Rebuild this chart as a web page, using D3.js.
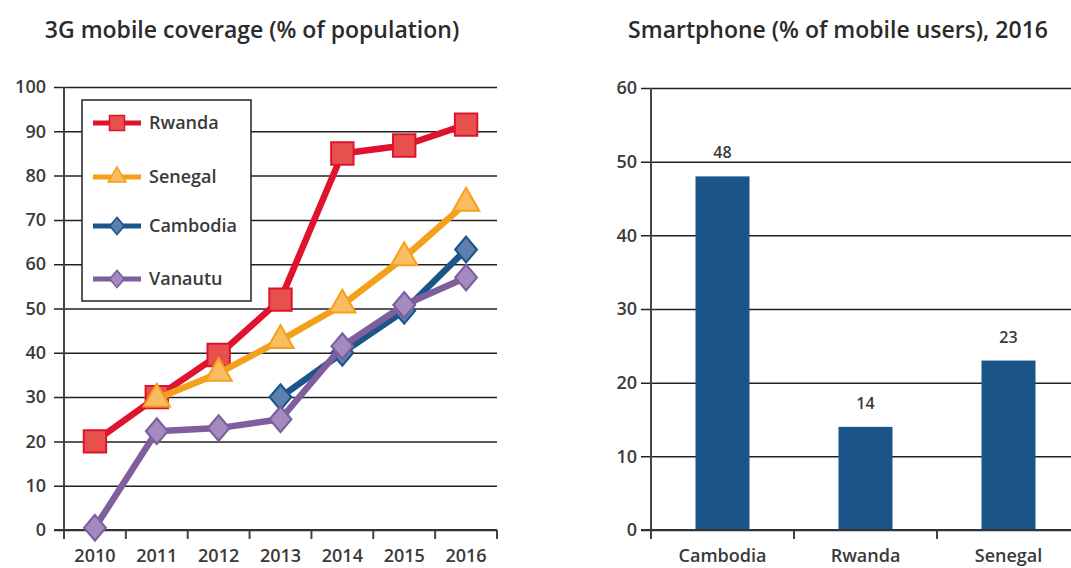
<!DOCTYPE html>
<html>
<head>
<meta charset="utf-8">
<script src="https://cdn.jsdelivr.net/npm/d3@7"></script>
<style>
   body { margin: 0; background: #fff; }
   svg text { font-family: "Open Sans", sans-serif; fill: #3a3a3a; }
   .title { font-size: 23px; font-weight: 600; fill: #2b2b2b; }
   .tick-label { font-size: 18px; font-weight: 600; }
</style>
</head>
<body>
<div id="chart"></div>
<script>
// Line chart data
const years = ["2010", "2011", "2012", "2013", "2014", "2015", "2016"];
const rwanda = [20, 30, 39.5, 52, 85, 86.8, 91.5];
const senegal = [null, 29.6, 35.4, 42.8, 50.8, 61.5, 73.8];
const cambodia = [null, null, null, 30, 40, 49.5, 63.3];
const vanuatu = [0.5, 22.3, 23, 25, 41.5, 50.8, 57];
const lineTicks = [0, 10, 20, 30, 40, 50, 60, 70, 80, 90, 100];

// Bar chart data
const barCategories = ["Cambodia", "Rwanda", "Senegal"];
const barValues = [48, 14, 23];
const barTicks = [0, 10, 20, 30, 40, 50, 60];

const width = 1071;
const height = 568;

const svg = d3.select("#chart").append("svg")
   .attr("width", width)
   .attr("height", height);

const series = [
   { name: "Rwanda", values: rwanda, line: "#e0132e", fill: "#e8504e", shape: d3.symbolSquare, size: 500, sy: 1 },
   { name: "Senegal", values: senegal, line: "#f5a01a", fill: "#f9bc62", shape: d3.symbolTriangle, size: 300, sy: 1 },
   { name: "Cambodia", values: cambodia, line: "#1b5589", fill: "#5f80ad", shape: d3.symbolDiamond2, size: 300, sy: 1.18 },
   { name: "Vanautu", values: vanuatu, line: "#7e5e9c", fill: "#a48bbf", shape: d3.symbolDiamond2, size: 300, sy: 1.18 }
];

// Strip default axis styling so the css classes apply
const styleTickText = (g) => g.selectAll(".tick text")
   .attr("class", "tick-label")
   .attr("font-size", null)
   .attr("font-family", null)
   .attr("fill", null);

// ---------- Left: line chart ----------
const left = { x0: 64, x1: 497, y0: 87, y1: 530 };

const xLine = d3.scaleBand().domain(years).range([left.x0, left.x1]);
const yLine = d3.scaleLinear().domain([0, 100]).range([left.y1, left.y0]);

svg.append("text")
   .attr("class", "title")
   .attr("x", 252)
   .attr("y", 38)
   .attr("text-anchor", "middle")
   .text("3G mobile coverage (% of population)");

// Gridlines + y ticks
const gLeftY = svg.append("g").attr("transform", "translate(" + left.x0 + ",0)");
gLeftY.call(d3.axisLeft(yLine).tickValues(lineTicks).tickSize(10).tickPadding(8));
gLeftY.select(".domain").remove();
gLeftY.selectAll(".tick line").attr("x2", left.x1 - left.x0).attr("x1", -10).attr("stroke", "#222").attr("stroke-width", 1.5);
styleTickText(gLeftY);

// x axis
const gLeftX = svg.append("g").attr("transform", "translate(0," + left.y1 + ")");
gLeftX.call(d3.axisBottom(xLine).tickSize(0).tickPadding(19));
gLeftX.select(".domain").remove();
styleTickText(gLeftX);
const xEdges = years.map(d => xLine(d)).concat([left.x1]);
gLeftX.selectAll(".edge-tick").data(xEdges).enter().append("line")
   .attr("x1", d => d).attr("x2", d => d)
   .attr("y1", 0).attr("y2", 9)
   .attr("stroke", "#444").attr("stroke-width", 2);

// axis lines
svg.append("line")
   .attr("x1", left.x0).attr("x2", left.x0)
   .attr("y1", left.y0).attr("y2", left.y1 + 9)
   .attr("stroke", "#444").attr("stroke-width", 2);
svg.append("line")
   .attr("x1", left.x0 - 10).attr("x2", left.x1)
   .attr("y1", left.y1).attr("y2", left.y1)
   .attr("stroke", "#333").attr("stroke-width", 2);

// Legend box
svg.append("rect")
   .attr("x", 82).attr("y", 100)
   .attr("width", 169).attr("height", 201)
   .attr("fill", "#fff").attr("stroke", "#222").attr("stroke-width", 1.5);

// Lines and markers
const xMid = d => xLine(d) + xLine.bandwidth() / 2;
const lineGen = d3.line()
   .defined(d => d.v !== null)
   .x(d => xMid(d.year))
   .y(d => yLine(d.v));

series.forEach(s => {
   const pts = years.map((year, i) => ({ year: year, v: s.values[i] }));
   svg.append("path")
      .datum(pts)
      .attr("d", lineGen)
      .attr("fill", "none")
      .attr("stroke", s.line)
      .attr("stroke-width", 6.5)
      .attr("stroke-linejoin", "round");
   svg.selectAll(null).data(pts.filter(d => d.v !== null)).enter().append("path")
      .attr("d", d3.symbol().type(s.shape).size(s.size))
      .attr("transform", d => "translate(" + xMid(d.year) + "," + yLine(d.v) + ") scale(1," + s.sy + ")")
      .attr("fill", s.fill)
      .attr("stroke", s.line)
      .attr("stroke-width", 2);
});

// Legend entries
const legendY = [123, 177, 226, 279];
series.forEach((s, i) => {
   const g = svg.append("g").attr("transform", "translate(0," + legendY[i] + ")");
   g.append("line")
      .attr("x1", 93).attr("x2", 141)
      .attr("stroke", s.line).attr("stroke-width", 5);
   g.append("path")
      .attr("d", d3.symbol().type(s.shape).size(s.size * 0.45))
      .attr("transform", "translate(117,0) scale(1," + s.sy + ")")
      .attr("fill", s.fill).attr("stroke", s.line).attr("stroke-width", 1.5);
   g.append("text")
      .attr("class", "tick-label")
      .attr("x", 149).attr("y", 6)
      .text(s.name);
});

// ---------- Right: bar chart ----------
const right = { x0: 651, x1: 1080, y0: 88, y1: 530 };
const xBar = d3.scaleBand().domain(barCategories).range([right.x0, right.x1]);
const yBar = d3.scaleLinear().domain([0, 60]).range([right.y1, right.y0]);

svg.append("text")
   .attr("class", "title")
   .attr("x", 838)
   .attr("y", 38)
   .attr("text-anchor", "middle")
   .text("Smartphone (% of mobile users), 2016");

const gRightY = svg.append("g").attr("transform", "translate(" + right.x0 + ",0)");
gRightY.call(d3.axisLeft(yBar).tickValues(barTicks).tickPadding(8));
gRightY.select(".domain").remove();
gRightY.selectAll(".tick line").attr("x2", width - right.x0).attr("x1", -10).attr("stroke", "#222").attr("stroke-width", 1.5);
styleTickText(gRightY);

const barW = 54;
svg.selectAll(".bar").data(barCategories).enter().append("rect")
   .attr("class", "bar")
   .attr("x", d => xBar(d) + xBar.bandwidth() / 2 - barW / 2)
   .attr("width", barW)
   .attr("y", (d, i) => yBar(barValues[i]))
   .attr("height", (d, i) => right.y1 - yBar(barValues[i]))
   .attr("fill", "#1a5488");

svg.selectAll(".bar-label").data(barCategories).enter().append("text")
   .attr("class", "bar-label")
   .attr("x", d => xBar(d) + xBar.bandwidth() / 2)
   .attr("y", (d, i) => yBar(barValues[i]) - 18)
   .attr("text-anchor", "middle")
   .attr("font-size", 16)
   .attr("font-weight", 600)
   .text((d, i) => barValues[i]);

const gRightX = svg.append("g").attr("transform", "translate(0," + right.y1 + ")");
gRightX.call(d3.axisBottom(xBar).tickSize(0).tickPadding(19));
gRightX.select(".domain").remove();
styleTickText(gRightX);
gRightX.selectAll(".edge-tick").data(barCategories.map(d => xBar(d))).enter().append("line")
   .attr("x1", d => d).attr("x2", d => d)
   .attr("y1", 0).attr("y2", 9)
   .attr("stroke", "#444").attr("stroke-width", 2);

svg.append("line")
   .attr("x1", right.x0).attr("x2", right.x0)
   .attr("y1", right.y0).attr("y2", right.y1 + 9)
   .attr("stroke", "#444").attr("stroke-width", 2);
svg.append("line")
   .attr("x1", right.x0 - 10).attr("x2", width)
   .attr("y1", right.y1).attr("y2", right.y1)
   .attr("stroke", "#333").attr("stroke-width", 2);
</script>
</body>
</html>
